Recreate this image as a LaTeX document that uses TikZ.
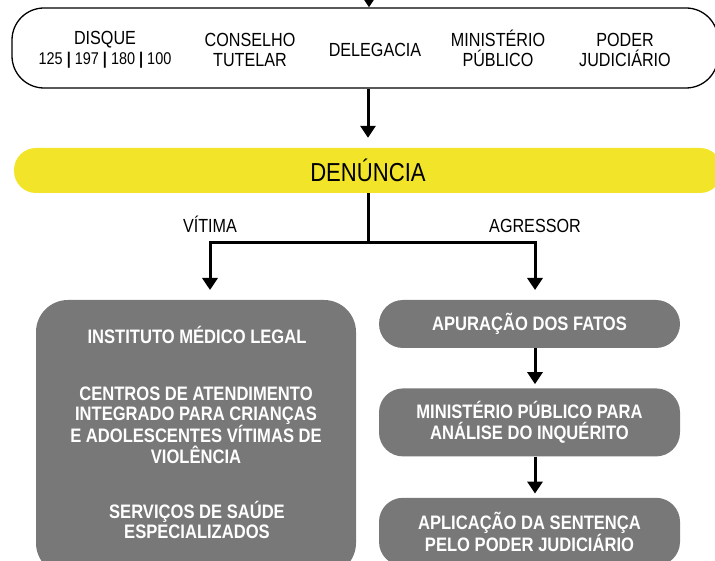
\documentclass[tikz,border=0pt]{standalone}
\usepackage{fontspec}
\setmainfont{Liberation Sans}[FakeStretch=0.85]
\usepackage{xcolor}
\usepackage{tikz}
\usetikzlibrary{positioning,arrows.meta}

\definecolor{amarelo}{RGB}{242,228,40}
\definecolor{cinza}{RGB}{120,120,120}

\begin{document}
\begin{tikzpicture}[
    x=1pt, y=-1pt,
    node distance=40pt,
    canal/.style={align=center, inner sep=0pt, font=\fontsize{19}{20}\selectfont},
    rotulo/.style={inner sep=0pt, font=\fontsize{19}{20}\selectfont},
    caixa/.style={rectangle, fill=cinza, inner sep=0pt},
    texto/.style={align=center, inner sep=0pt, text=white, font=\bfseries\fontsize{19.5}{20.5}\selectfont},
    etapa/.style={caixa, texto, rounded corners=24pt, minimum width=301pt},
    seta/.style={line width=3pt, -{Triangle[width=15pt,length=12pt]}},
    linha/.style={line width=3pt},
]
\useasboundingbox (0,0) rectangle (715,561);
\clip (0,0) rectangle (715,561);
% Canais de denuncia
\node[draw, line width=1.3pt, rounded corners=32pt, minimum width=706pt, minimum height=80pt, inner sep=0pt] (canais) at (365,48) {};
\node[canal] (disque) at (105,48) {DISQUE\vphantom{É}\\{\fontsize{17}{20}\selectfont 125 \textbf{|} 197 \textbf{|} 180 \textbf{|} 100}};
\node[canal] (conselho) at (250,48) {CONSELHO\vphantom{É}\\TUTELAR};
\node[canal] (delegacia) at (375,48) {DELEGACIA\vphantom{É}};
\node[canal] (mp) at (498,48) {MINISTÉRIO\\PÚBLICO};
\node[canal] (poder) at (625,48) {PODER\vphantom{É}\\JUDICIÁRIO};
\coordinate (entrada) at (369,-30);
\draw[seta] (entrada) -- (entrada |- canais.north);
% Denuncia
\node[fill=amarelo, rounded corners=22pt, minimum width=708pt, minimum height=45pt, inner sep=0pt, font=\fontsize{26}{28}\selectfont] (denuncia) at (368,170.5) {DENÚNCIA};
\draw[seta] (denuncia.north |- canais.south) -- ([yshift=10pt]denuncia.north);
% Ramos
\node[rotulo] (vit_rot) at (210,224) {VÍTIMA};
\node[rotulo] (agr_rot) at (535,224) {AGRESSOR\vphantom{Í}};
\coordinate (ramo) at (368,243);
\coordinate (alvo_vit) at (210,290);
\coordinate (alvo_agr) at (535,290);
\draw[linha] (denuncia.south) -- (ramo);
\draw[seta] (ramo) -| (alvo_vit);
\draw[seta] (ramo) -| (alvo_agr);
% Vitima
\node[caixa, rounded corners=32pt, minimum width=320pt, minimum height=275pt] (vitima) at (196,437.5) {};
\node[texto] (iml) at (197,335) {INSTITUTO MÉDICO LEGAL};
\node[texto] (centros) at (196,425) {CENTROS DE ATENDIMENTO\\INTEGRADO PARA CRIANÇAS\\E ADOLESCENTES VÍTIMAS DE\\VIOLÊNCIA};
\node[texto] (saude) at (197,520) {SERVIÇOS DE SAÚDE\\ESPECIALIZADOS};
% Agressor
\node[etapa, minimum height=48pt] (apuracao) at (529.5,324) {APURAÇÃO DOS FATOS};
\node[etapa, minimum height=68pt, below=of apuracao] (ministerio) {MINISTÉRIO PÚBLICO PARA\\ANÁLISE DO INQUÉRITO};
\node[etapa, minimum height=68pt, below=41pt of ministerio] (aplicacao) {APLICAÇÃO DA SENTENÇA\\PELO PODER JUDICIÁRIO};
\draw[seta] ([xshift=5.5pt]apuracao.south) -- ([xshift=5.5pt,yshift=4pt]ministerio.north);
\draw[seta] ([xshift=5.5pt]ministerio.south) -- ([xshift=5.5pt,yshift=4pt]aplicacao.north);
\end{tikzpicture}
\end{document}
